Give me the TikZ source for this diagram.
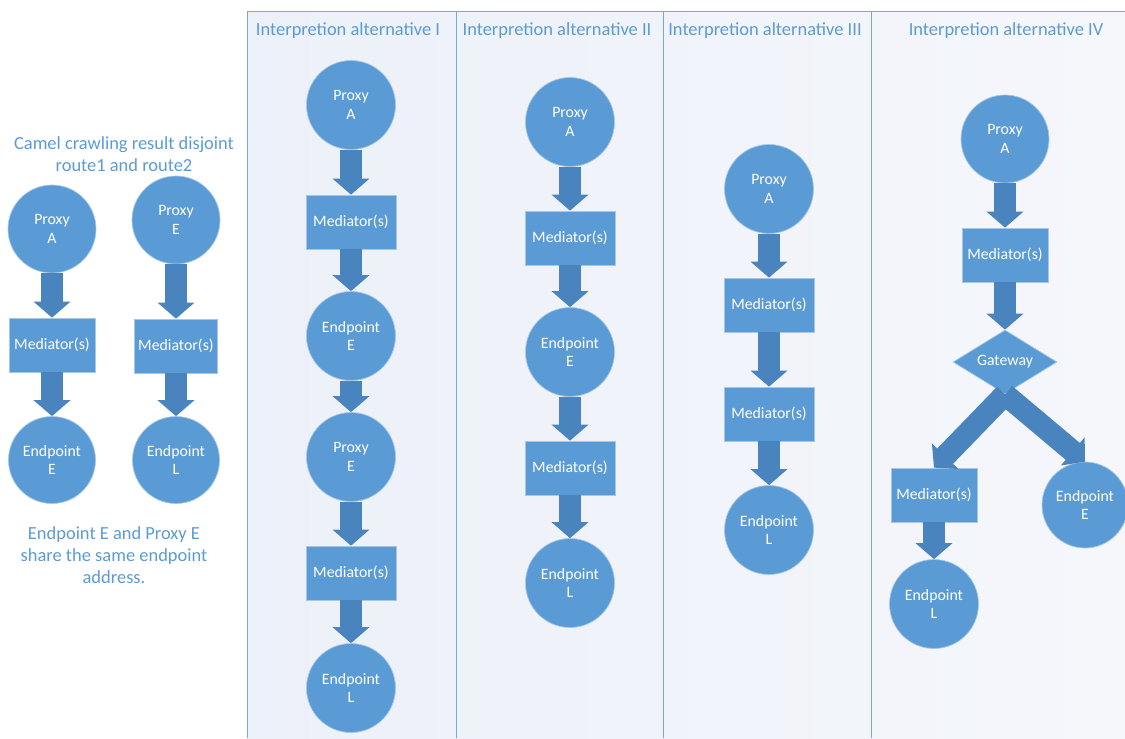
\documentclass[tikz,border=0pt]{standalone}
\usepackage{fontspec}
\setmainfont{Carlito}
\usepackage{xcolor}
\usepackage{tikz}
\usetikzlibrary{arrows.meta,shapes.geometric}

\definecolor{nodeblue}{HTML}{5B9BD5}
\definecolor{arrowblue}{HTML}{4A84BE}
\definecolor{textblue}{HTML}{5B9BD5}
\definecolor{panelline}{HTML}{7FA6D3}
\definecolor{panelleft}{HTML}{ECF0F8}
\definecolor{panelright}{HTML}{F5F7FB}

\begin{document}
\begin{tikzpicture}[x=0.02cm, y=-0.02cm,
	circ/.style={circle, fill=nodeblue, draw=nodeblue!55!white, line width=0.4pt, minimum size=1.78cm, inner sep=0pt, text=white, align=center, font=\fontsize{9}{10.5}\selectfont},
	box/.style={rectangle, fill=nodeblue, draw=nodeblue!55!white, line width=0.4pt, minimum width=1.8cm, minimum height=1.08cm, inner sep=0pt, text=white, font=\fontsize{9}{10.5}\selectfont},
	gate/.style={diamond, fill=nodeblue, draw=nodeblue!55!white, line width=0.4pt, aspect=1.6, minimum width=2.08cm, minimum height=1.28cm, inner sep=0pt, text=white, font=\fontsize{9}{10.5}\selectfont},
	flow/.style={arrowblue, line width=0.44cm, -{Triangle[width=0.72cm, length=0.32cm]}},
	note/.style={text=textblue, align=center, font=\fontsize{10.5}{12.5}\selectfont},
	head/.style={text=textblue, font=\fontsize{10.5}{12.5}\selectfont}]
		\useasboundingbox (0,0) rectangle (1125,738);
		
		% panel behind the four alternatives
		\shade[left color=panelleft, right color=panelright] (247,11) rectangle (1125,738);
		\draw[panelline] (247,738) -- (247,11) -- (1125,11);
		\draw[panelline] (456,11) -- (456,738);
		\draw[panelline] (663,11) -- (663,738);
		\draw[panelline] (871,11) -- (871,738);
		
		\node[head] (h1) at (348,31) {Interpretion alternative I};
		\node[head] (h2) at (557,31) {Interpretion alternative II};
		\node[head] (h3) at (765,31) {Interpretion alternative III};
		\node[head] (h4) at (1006,31) {Interpretion alternative IV};
		
		% crawling result
		\node[note] (title) at (124,154) {Camel crawling result disjoint\\route1 and route2};
		\node[circ, minimum size=1.76cm] (la) at (52,229) {Proxy\\A};
		\node[box, minimum width=1.72cm] (lm1) at (52,345) {Mediator(s)};
		\node[circ, minimum size=1.74cm] (le) at (52,460) {Endpoint\\E};
		\node[circ, minimum size=1.76cm] (lpe) at (176,220) {Proxy\\E};
		\node[box, minimum width=1.66cm] (lm2) at (176,346) {Mediator(s)};
		\node[circ, minimum size=1.74cm] (ll) at (176,460) {Endpoint\\L};
		\node[note] (share) at (114,555) {Endpoint E and Proxy E\\share the same endpoint\\address.};
		
		\draw[flow] (la) -- (lm1);
		\draw[flow] (lm1) -- (le);
		\draw[flow] (lpe) -- (lm2);
		\draw[flow] (lm2) -- (ll);
		
		% alternative I
		\node[circ] (pa1) at (351,105) {Proxy\\A};
		\node[box] (m1a) at (351,222) {Mediator(s)};
		\node[circ] (ee1) at (351,336) {Endpoint\\E};
		\node[circ] (pe1) at (351,457) {Proxy\\E};
		\node[box] (m1b) at (351,573) {Mediator(s)};
		\node[circ] (el1) at (351,688) {Endpoint\\L};
		
		\draw[flow] (pa1) -- (m1a);
		\draw[flow] (m1a) -- (ee1);
		\draw[flow] (ee1) -- (pe1);
		\draw[flow] (pe1) -- (m1b);
		\draw[flow] (m1b) -- (el1);
		
		% alternative II
		\node[circ] (pa2) at (570,122) {Proxy\\A};
		\node[box] (m2a) at (570,238) {Mediator(s)};
		\node[circ] (ee2) at (570,352) {Endpoint\\E};
		\node[box] (m2b) at (570,468) {Mediator(s)};
		\node[circ] (el2) at (570,583) {Endpoint\\L};
		
		\draw[flow] (pa2) -- (m2a);
		\draw[flow] (m2a) -- (ee2);
		\draw[flow] (ee2) -- (m2b);
		\draw[flow] (m2b) -- (el2);
		
		% alternative III
		\node[circ] (pa3) at (769,189) {Proxy\\A};
		\node[box] (m3a) at (769,305) {Mediator(s)};
		\node[box] (m3b) at (769,414) {Mediator(s)};
		\node[circ] (el3) at (769,530) {Endpoint\\L};
		
		\draw[flow] (pa3) -- (m3a);
		\draw[flow] (m3a) -- (m3b);
		\draw[flow] (m3b) -- (el3);
		
		% alternative IV
		\node[circ, minimum size=1.76cm] (pa4) at (1005,139) {Proxy\\A};
		\node[box, minimum width=1.72cm] (m4a) at (1005,255) {Mediator(s)};
		\node[gate] (gw) at (1005,362) {Gateway};
		\node[box, minimum width=1.72cm] (m4b) at (934,495) {Mediator(s)};
		\node[circ, minimum size=1.72cm] (ee4) at (1085,505) {Endpoint\\E};
		\node[circ] (el4) at (934,604) {Endpoint\\L};
		
		\draw[flow] (pa4) -- (m4a);
		\draw[flow] (m4a) -- (gw);
		\draw[flow] (gw.south) -- (m4b.north);
		\draw[flow] (gw.south) -- (ee4.north);
		\draw[flow] (m4b) -- (el4);
	\end{tikzpicture}
\end{document}
